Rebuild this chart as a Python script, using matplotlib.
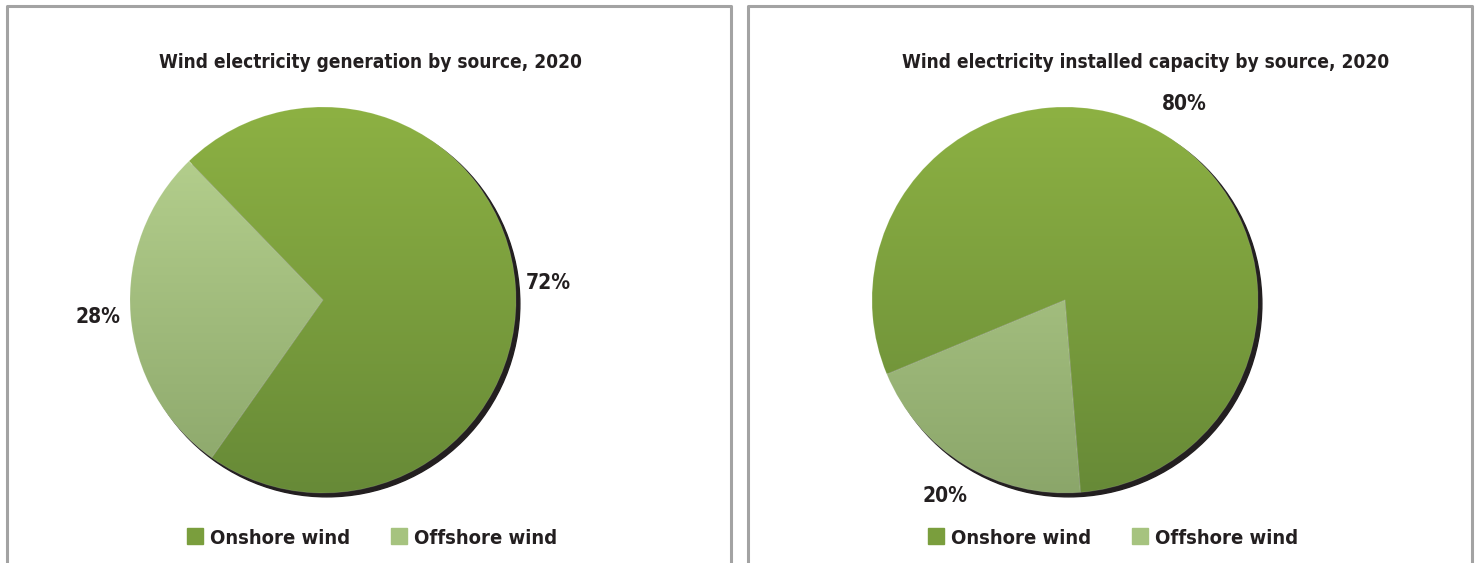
# wind electricity pies, generation and installed capacity by source (2020)
import numpy as np
import matplotlib
matplotlib.use('Agg')
import matplotlib.pyplot as plt
from matplotlib.patches import Circle
from matplotlib.lines import Line2D
from matplotlib.colors import LinearSegmentedColormap
from matplotlib import font_manager as fm

sources = ["Onshore wind", "Offshore wind"]
generation_share = [72, 28]
capacity_share = [80, 20]
titles = ["Wind electricity generation by source, 2020",
          "Wind electricity installed capacity by source, 2020"]
start_angles = [134, 202.6]

# top / bottom colours of the vertical gradient
grad_colors = [("#8db143", "#678a37"), ("#b9d491", "#8ba66a")]
legend_colors = ["#7a9e3d", "#a6c37f"]
text_col = "#231f20"

# narrow bold font (reference uses Arial Narrow)
fp = dict(family='DejaVu Sans', stretch='condensed', weight='bold')

W, H = 1478, 563
fig = plt.figure(figsize=(W / 100, H / 100), dpi=100)

# panel frames (pixel coords from top-left)
for x0, x1 in [(7, 731), (748, 1472)]:
    fig.add_artist(Line2D([x0 / W, x0 / W, x1 / W, x1 / W],
                          [0, 1 - 6 / H, 1 - 6 / H, 0],
                          transform=fig.transFigure, color="#a3a3a3", lw=2.2))

R = 193.0   # pie radius in px
L = 1.35
centers = [(323, 300), (1065, 300)]
title_x = [370, 1146]
legend_x = [371, 1112]

for i, values in enumerate([generation_share, capacity_share]):
    cx, cy = centers[i]
    S = 2 * L * R
    ax = fig.add_axes([(cx - S / 2) / W, (H - cy - S / 2) / H, S / W, S / H])
    ax.axis('off')

    # drop shadow
    ax.add_patch(Circle((0.02, -0.02), 1.0, color="#231f20", zorder=0))

    wedges, texts, autotexts = ax.pie(
        values, startangle=start_angles[i], counterclock=False,
        autopct=lambda p: f"{p:.0f}%", pctdistance=1.17 if i == 0 else 1.19,
        colors=["none", "none"], wedgeprops=dict(linewidth=0),
        textprops=dict(fontsize=15, color=text_col, **fp))
    ax.set_xlim(-L, L)
    ax.set_ylim(-L, L)
    ax.set_aspect('equal')

    grad = np.linspace(0, 1, 256).reshape(-1, 1)
    for w, (top, bot) in zip(wedges, grad_colors):
        cmap = LinearSegmentedColormap.from_list("g", [top, bot])
        im = ax.imshow(grad, cmap=cmap, extent=[-1, 1, -1, 1],
                       aspect='auto', zorder=1, interpolation='bilinear')
        im.set_clip_path(w)
    # faint edge between slices
    for w in wedges:
        w.set_edgecolor((1, 1, 1, 0.15))
        w.set_linewidth(0.6)
        w.set_zorder(2)

    fig.text(title_x[i] / W, 1 - 62 / H, titles[i], ha='center', va='center',
             fontsize=13.7, color=text_col, **fp)

    handles = [Line2D([], [], marker='s', ls='none', markersize=11,
                      markerfacecolor=c, markeredgecolor=c) for c in legend_colors]
    fig.legend(handles, sources, loc='center',
               bbox_to_anchor=(legend_x[i] / W, 1 - 538 / H), ncol=2,
               frameon=False, handletextpad=0.25, columnspacing=1.9,
               handlelength=1.0, prop=fm.FontProperties(size=14.5, **fp),
               labelcolor=text_col)

fig.savefig("out.png", dpi=100)
